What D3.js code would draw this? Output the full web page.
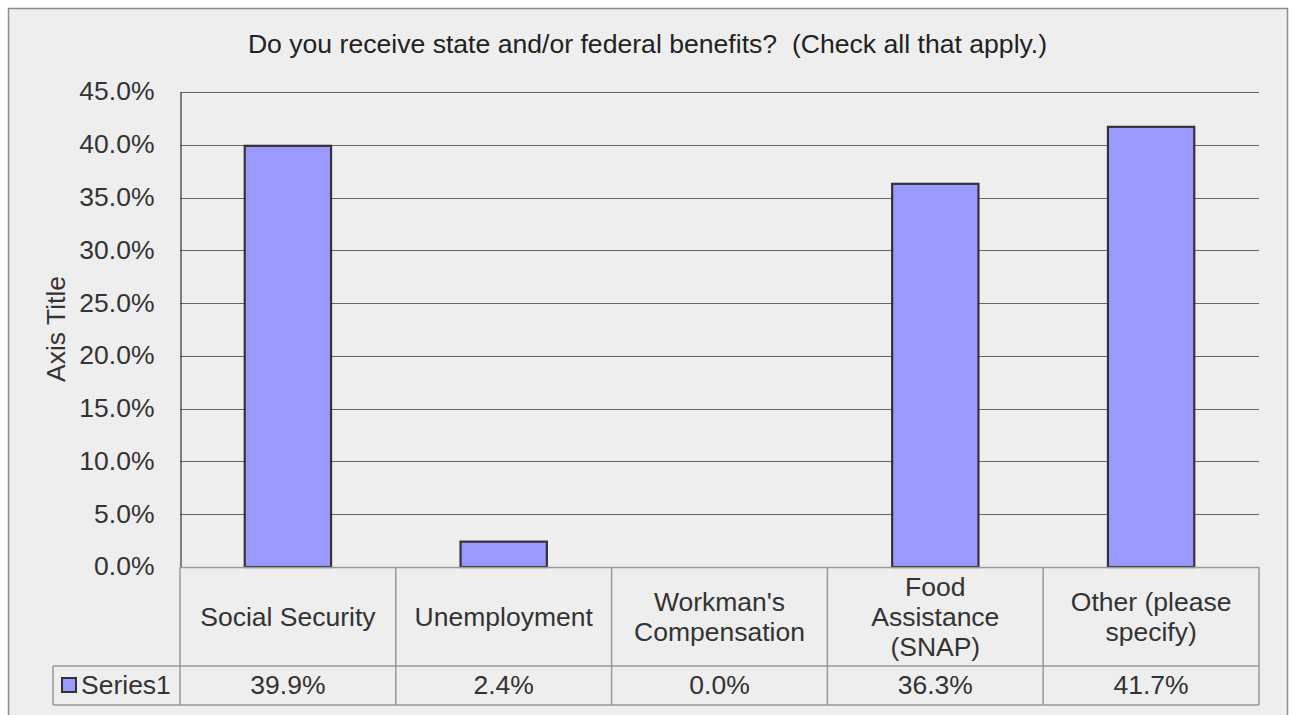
<!DOCTYPE html>
<html>
<head>
<meta charset="utf-8">
<script src="https://cdn.jsdelivr.net/npm/d3@7"></script>
<style>
  html, body { margin: 0; padding: 0; background: #ffffff; }
  svg text { font-family: "Liberation Sans", Arial, sans-serif; fill: #333333; }
</style>
</head>
<body>
<svg id="chart" width="1293" height="715"></svg>
<script>
"use strict";

// data
const categories = ["Social Security", "Unemployment", "Workman's Compensation", "Food Assistance (SNAP)", "Other (please specify)"];
const category_lines = [["Social Security"], ["Unemployment"], ["Workman's", "Compensation"], ["Food", "Assistance", "(SNAP)"], ["Other (please", "specify)"]];
const values = [39.9, 2.4, 0.0, 36.3, 41.7];
const y_ticks = [0, 5, 10, 15, 20, 25, 30, 35, 40, 45];
const series_name = "Series1";
const title = "Do you receive state and/or federal benefits?  (Check all that apply.)";
const y_title = "Axis Title";

const p = {
  left: 180,
  right: 1259,
  top: 92,
  bottom: 567,
  row1: 666,   // bottom of category row
  row2: 705,   // bottom of value row
  legend_left: 53,
  bar_fill: "#9999ff",
  bar_stroke: "#333333",
  grid: "#666666",
  table_line: "#999999",
  font_size: 26.5
};

const svg = d3.select("#chart");

// frame
svg.append("rect")
  .attr("x", 8.5).attr("y", 8.5)
  .attr("width", 1279).attr("height", 720)
  .attr("fill", "#eeeeee")
  .attr("stroke", "#8c8c8c")
  .attr("stroke-width", 1.5);

const x = d3.scaleBand().domain(categories).range([p.left, p.right]).padding(0);
const y = d3.scaleLinear().domain([0, 45]).range([p.bottom, p.top]);

// title
svg.append("text")
  .attr("x", 647.5).attr("y", 53)
  .attr("text-anchor", "middle")
  .attr("font-size", 26.6)
  .style("fill", "#222222")
  .style("white-space", "pre")
  .text(title);

// gridlines
svg.append("g")
  .selectAll("line")
  .data(y_ticks.filter(d => d > 0))
  .join("line")
  .attr("x1", p.left).attr("x2", p.right)
  .attr("y1", d => Math.round(y(d)) + 0.5)
  .attr("y2", d => Math.round(y(d)) + 0.5)
  .attr("stroke", p.grid)
  .attr("stroke-width", 1);

// y axis
const y_axis = svg.append("g")
  .attr("transform", `translate(${p.left + 0.5},0)`)
  .call(d3.axisLeft(y).tickValues(y_ticks).tickSize(0).tickPadding(26)
    .tickFormat(d => d3.format(".1f")(d) + "%"));
y_axis.select(".domain").attr("stroke", "#333333").attr("stroke-width", 1.2);
y_axis.selectAll("text")
  .attr("font-size", p.font_size)
  .attr("font-family", "Liberation Sans, Arial, sans-serif")
  .attr("fill", "#333333")
  .attr("dy", "0.3em");

// y axis title
svg.append("text")
  .attr("transform", "translate(65,329) rotate(-90)")
  .attr("text-anchor", "middle")
  .attr("font-size", p.font_size)
  .text(y_title);

// bars
const bw = x.bandwidth() * 0.4;
svg.append("g")
  .selectAll("rect")
  .data(values)
  .join("rect")
  .attr("x", (d, i) => x(categories[i]) + (x.bandwidth() - bw) / 2)
  .attr("y", d => y(d))
  .attr("width", bw)
  .attr("height", d => y(0) - y(d))
  .attr("fill", p.bar_fill)
  .attr("stroke", d => d > 0 ? p.bar_stroke : "none")
  .attr("stroke-width", 2.2);

// data table lines
const tbl = svg.append("g").attr("stroke", p.table_line).attr("stroke-width", 1.5);
tbl.append("line").attr("x1", p.left).attr("x2", p.right).attr("y1", p.bottom + 0.5).attr("y2", p.bottom + 0.5);
tbl.append("line").attr("x1", p.legend_left).attr("x2", p.right).attr("y1", p.row1).attr("y2", p.row1);
tbl.append("line").attr("x1", p.legend_left).attr("x2", p.right).attr("y1", p.row2).attr("y2", p.row2);
tbl.append("line").attr("x1", p.legend_left).attr("x2", p.legend_left).attr("y1", p.row1).attr("y2", p.row2);
tbl.selectAll(".col")
  .data(categories.map(c => x(c)).concat([p.right]))
  .join("line")
  .attr("class", "col")
  .attr("x1", d => d).attr("x2", d => d)
  .attr("y1", p.bottom).attr("y2", p.row2);

// category labels
const line_h = 30;
const cat_g = svg.append("g")
  .selectAll("text")
  .data(category_lines)
  .join("text")
  .attr("text-anchor", "middle")
  .attr("font-size", p.font_size)
  .attr("x", (d, i) => x(categories[i]) + x.bandwidth() / 2)
  .attr("y", d => (p.bottom + p.row1) / 2 - (d.length - 1) * line_h / 2 + 9.5);
cat_g.selectAll("tspan")
  .data(d => d)
  .join("tspan")
  .attr("x", function () { return this.parentNode.getAttribute("x"); })
  .attr("dy", (d, i) => i === 0 ? 0 : line_h)
  .text(d => d);

// value row
svg.append("g")
  .selectAll("text")
  .data(values)
  .join("text")
  .attr("text-anchor", "middle")
  .attr("font-size", p.font_size)
  .attr("x", (d, i) => x(categories[i]) + x.bandwidth() / 2)
  .attr("y", 694)
  .text(d => d3.format(".1f")(d) + "%");

// legend key
svg.append("rect")
  .attr("x", 62).attr("y", 678)
  .attr("width", 14).attr("height", 14)
  .attr("fill", p.bar_fill)
  .attr("stroke", p.bar_stroke)
  .attr("stroke-width", 2);
svg.append("text")
  .attr("x", 81).attr("y", 694)
  .attr("font-size", p.font_size)
  .text(series_name);
</script>
</body>
</html>
